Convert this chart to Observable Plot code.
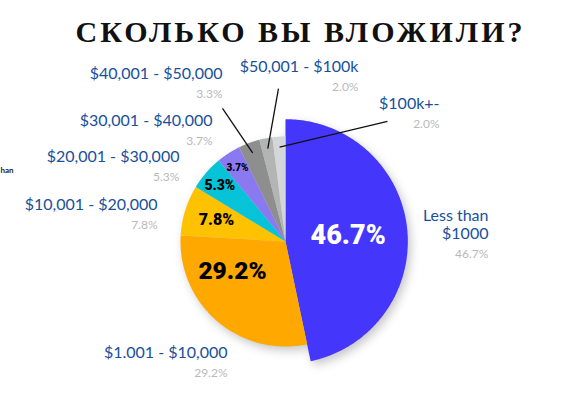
<!DOCTYPE html>
<html>
<head>
<meta charset="utf-8">
<script src="https://cdn.jsdelivr.net/npm/d3@7"></script>
<script src="https://cdn.jsdelivr.net/npm/@observablehq/plot@0.6"></script>
<style>
  html, body { margin: 0; padding: 0; background: #fff; }
  #wrap { width: 579px; height: 407px; position: relative; overflow: hidden; }
  #title { height: 56px; box-sizing: border-box; padding-top: 17px; padding-left: 22px; text-align: center;
           font-family: "Liberation Serif", "DejaVu Serif", serif; font-weight: bold;
           font-size: 30px; line-height: 30px; letter-spacing: 3px; color: #111; white-space: nowrap; }
  #chart svg { display: block; overflow: visible; }
  #chart svg g[aria-label="line"] { filter: drop-shadow(3px 4px 5px rgba(0,0,0,0.22)); }
</style>
</head>
<body>
<div id="wrap">
  <div id="title">СКОЛЬКО ВЫ ВЛОЖИЛИ?</div>
  <div id="chart"></div>
</div>
<script>
// ---- data ----
const categories = ["Less than $1000", "$1.001 - $10,000", "$10,001 - $20,000", "$20,001 - $30,000",
                    "$30,001 - $40,000", "$40,001 - $50,000", "$50,001 - $100k", "$100k+-"];
const shares = [46.7, 29.2, 7.8, 5.3, 3.7, 3.3, 2.0, 2.0];
const labelLines = [["Less than", "$1000"], ["$1.001 - $10,000"], ["$10,001 - $20,000"], ["$20,001 - $30,000"],
                    ["$30,001 - $40,000"], ["$40,001 - $50,000"], ["$50,001 - $100k"], ["$100k+-"]];

// ---- styles / layout ----
const sliceColors = ["#4536fb", "#ffa800", "#ffc200", "#06c3d8", "#8b79f2", "#8e8e8e", "#b3b5b5", "#d4d7d7"];
const sliceRadius = [1.165, 1, 1, 1, 1, 1, 1, 1];
// inner label polar layout (angle deg clockwise from top, radius), font size, colour
const innerAngle = [84, 240.5, 287.7, 310.3, 327];
const innerRadius = [0.6, 0.58, 0.69, 0.82, 0.84];
const innerSize = [27, 24.5, 16, 14, 10];
const innerColor = ["#ffffff", "#000", "#000", "#000", "#000"];
// outer label anchors (pie units, centre = 0,0, radius 1)
const outerX = [1.933, -0.552, -1.219, -1.010, -0.695, -0.600, 0.695, 1.467];
const outerY = [0.162, -1.057, 0.352, 0.810, 1.152, 1.600, 1.667, 1.314];
// leader line outer ends for the small slices
const leaderIdx = [5, 6, 7];
const leaderX = [-0.600, -0.067, 0.971];
const leaderY = [1.267, 1.457, 1.143];

// ---- geometry ----
const arcs = d3.pie().sort(null).value(d => d)(shares);
const slicePts = [];
arcs.forEach((a, i) => {
  const cat = categories[i], r = sliceRadius[i];
  slicePts.push({cat, x: 0, y: 0});
  const n = Math.max(2, Math.ceil((a.endAngle - a.startAngle) / 0.01));
  for (let k = 0; k <= n; k++) {
    const t = a.startAngle + (a.endAngle - a.startAngle) * k / n;
    slicePts.push({cat, x: r * Math.sin(t), y: r * Math.cos(t)});
  }
  slicePts.push({cat, x: 0, y: 0});
});

const inner = innerAngle.map((deg, i) => {
  const t = deg * Math.PI / 180;
  return {x: innerRadius[i] * Math.sin(t), y: innerRadius[i] * Math.cos(t),
          text: shares[i].toFixed(1) + "%", size: innerSize[i], color: innerColor[i]};
});

const outer = categories.map((c, i) => ({
  x: outerX[i], y: outerY[i], text: labelLines[i].join("\n"),
  pctY: outerY[i] - (labelLines[i].length - 1) * 0.086 - 0.2, pct: shares[i].toFixed(1) + "%"
}));

const leaders = leaderIdx.map((idx, j) => {
  const a = arcs[idx], t = (a.startAngle + a.endAngle) / 2;
  return {x1: leaderX[j], y1: leaderY[j], x2: 0.9 * Math.sin(t), y2: 0.9 * Math.cos(t)};
});

const U = 105, CX = 285, CY = 185, W = 579, H = 351;
const labelFont = "Lato, 'Open Sans', sans-serif";

const chart = Plot.plot({
  width: W, height: H, margin: 0,
  x: {domain: [-CX / U, (W - CX) / U], axis: null},
  y: {domain: [-(H - CY) / U, CY / U], axis: null},
  color: {domain: categories, range: sliceColors},
  style: {background: "transparent", overflow: "visible"},
  marks: [
    Plot.line(slicePts, {x: "x", y: "y", z: "cat", fill: "cat", stroke: "none", curve: "linear"}),
    Plot.text(inner, {x: "x", y: "y", text: "text", fill: "color", fontSize: "size",
                      fontWeight: 900, fontFamily: "Roboto, sans-serif"}),
    Plot.link(leaders, {x1: "x1", y1: "y1", x2: "x2", y2: "y2", stroke: "#111", strokeWidth: 1.3}),
    Plot.text(outer, {x: "x", y: "y", text: "text", textAnchor: "end", lineAnchor: "middle",
                      fontSize: 16, fill: "#18509b", fontFamily: labelFont, lineHeight: 1.13}),
    Plot.text(outer, {x: "x", y: "pctY", text: "pct", textAnchor: "end", fontSize: 12,
                      fill: "#b9b9b9", fontFamily: labelFont}),
    Plot.text(["han"], {x: -CX / U, y: 0.676, text: d => d, textAnchor: "start", fontSize: 8,
                        fontWeight: 700, fill: "#222", fontFamily: labelFont})
  ]
});
document.getElementById("chart").appendChild(chart);
</script>
</body>
</html>
